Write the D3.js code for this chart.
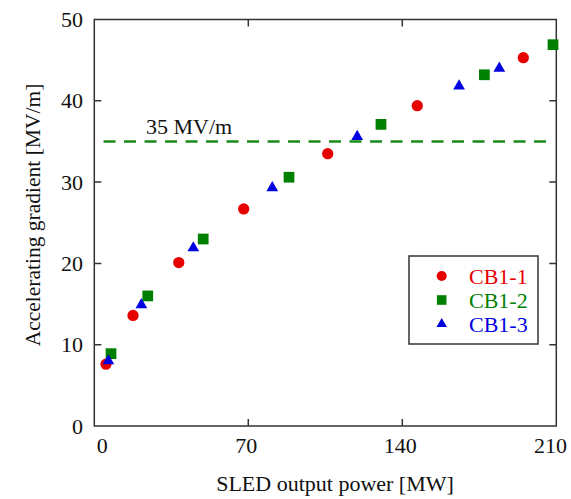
<!DOCTYPE html>
<html>
<head>
<meta charset="utf-8">
<script src="https://cdn.jsdelivr.net/npm/d3@7"></script>
<style>
  body { margin: 0; background: #fff; }
  text { font-family: "Liberation Serif", "Times New Roman", serif; }
</style>
</head>
<body>
<svg></svg>
<script>
const width = 571;
const height = 499;

// data
const cb1_1 = [[5.3, 7.6], [17.6, 13.6], [38.4, 20.1], [67.9, 26.7], [106.1, 33.5], [146.8, 39.4], [195, 45.3]];
const cb1_2 = [[7.6, 8.9], [24.3, 16.0], [49.5, 23.0], [88.5, 30.6], [130.3, 37.1], [177.3, 43.2], [208.5, 46.9]];
const cb1_3 = [[6.4, 8.0], [21.4, 14.9], [45, 21.9], [80.9, 29.3], [119.5, 35.6], [165.8, 41.8], [184.1, 44.0]];
const seriesNames = ["CB1-1", "CB1-2", "CB1-3"];
const xTicks = [0, 70, 140, 210];
const yTicks = [0, 10, 20, 30, 40, 50];
const target = 35;

const colors = ["#e60000", "#008000", "#0000e0"];
const symbols = [d3.symbolCircle, d3.symbolSquare, d3.symbolTriangle];
const sizes = [100, 115, 60];

const svg = d3.select("svg")
    .attr("width", width)
    .attr("height", height);

const x = d3.scaleLinear().domain([0, 210]).range([94.3, 556.3]);
const y = d3.scaleLinear().domain([0, 50]).range([426, 19.5]);

const axisColor = "#333";

// frame
svg.append("rect")
    .attr("x", x(0)).attr("y", y(50))
    .attr("width", x(210) - x(0)).attr("height", y(0) - y(50))
    .attr("fill", "none").attr("stroke", axisColor).attr("stroke-width", 1.5);

// inner ticks
const tl = 7;
svg.selectAll(".xt").data(xTicks.slice(1, -1)).enter().append("path")
    .attr("d", d => `M${x(d)},${y(0)}v${-tl}M${x(d)},${y(50)}v${tl}`)
    .attr("stroke", axisColor).attr("stroke-width", 1.5);
svg.selectAll(".yt").data(yTicks.slice(1, -1)).enter().append("path")
    .attr("d", d => `M${x(0)},${y(d)}h${tl}M${x(210)},${y(d)}h${-tl}`)
    .attr("stroke", axisColor).attr("stroke-width", 1.5);

// tick labels (end ones pulled inside like the original)
svg.selectAll(".xl").data(xTicks).enter().append("text")
    .attr("x", (d, i) => i === 0 ? x(d) + 2.5 : i === xTicks.length - 1 ? 567 : x(d) - 2)
    .attr("y", 453)
    .attr("text-anchor", (d, i) => i === 0 ? "start" : i === xTicks.length - 1 ? "end" : "middle")
    .attr("font-size", 22).attr("fill", "#111")
    .text(d => d);
svg.selectAll(".yl").data(yTicks).enter().append("text")
    .attr("x", 83).attr("y", d => y(d) + 7.5)
    .attr("text-anchor", "end")
    .attr("font-size", 22).attr("fill", "#111")
    .text(d => d);

// axis titles
svg.append("text")
    .attr("x", 335).attr("y", 491)
    .attr("text-anchor", "middle")
    .attr("font-size", 22).attr("fill", "#111")
    .text("SLED output power [MW]");
svg.append("text")
    .attr("transform", "translate(40,215) rotate(-90)")
    .attr("text-anchor", "middle")
    .attr("font-size", 21.5).attr("fill", "#111")
    .text("Accelerating gradient [MV/m]");

// 35 MV/m line
svg.append("line")
    .attr("x1", x(4.2)).attr("x2", x(206))
    .attr("y1", y(target)).attr("y2", y(target))
    .attr("stroke", "#1a8a1a").attr("stroke-width", 2.5)
    .attr("stroke-dasharray", "12,8.5");
svg.append("text")
    .attr("x", 146).attr("y", 133.5)
    .attr("font-size", 22).attr("fill", "#111")
    .text("35 MV/m");

// points
[cb1_1, cb1_2, cb1_3].forEach((data, i) => {
    svg.selectAll(".s" + i).data(data).enter().append("path")
        .attr("d", d3.symbol().type(symbols[i]).size(sizes[i]))
        .attr("transform", d => `translate(${x(d[0])},${y(d[1])})`)
        .attr("fill", colors[i]);
});

// legend
const legend = svg.append("g");
legend.append("rect")
    .attr("x", 409).attr("y", 256)
    .attr("width", 129).attr("height", 88)
    .attr("fill", "#fff").attr("stroke", axisColor).attr("stroke-width", 1.5);
seriesNames.forEach((name, i) => {
    const ly = 276 + i * 24;
    legend.append("path")
        .attr("d", d3.symbol().type(symbols[i]).size(sizes[i] * 0.8))
        .attr("transform", `translate(441.7,${ly})`)
        .attr("fill", colors[i]);
    legend.append("text")
        .attr("x", 469).attr("y", ly + 7.5)
        .attr("font-size", 22).attr("fill", colors[i])
        .text(name);
});
</script>
</body>
</html>
